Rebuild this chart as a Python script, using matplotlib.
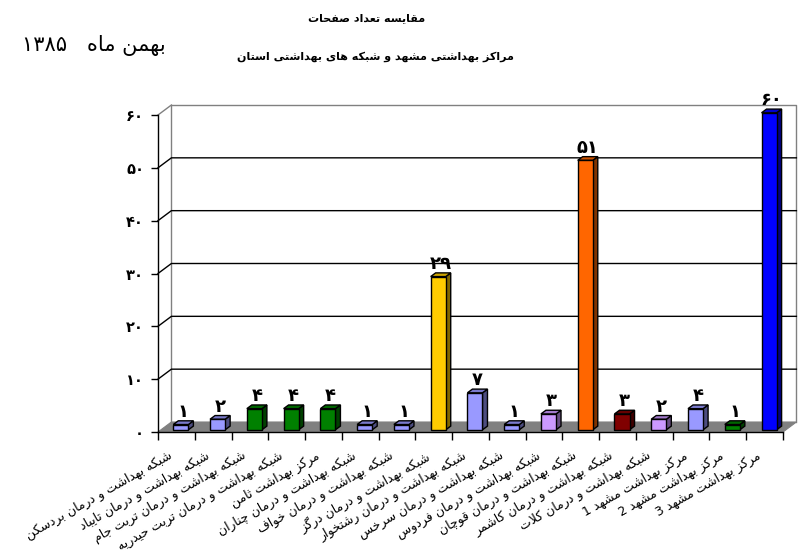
import matplotlib
matplotlib.use("Agg")
import matplotlib.pyplot as plt
from matplotlib.patches import Polygon

# ---------------- data ----------------
title_1 = "مقایسه تعداد صفحات"
title_2 = "مراکز بهداشتی مشهد و شبکه های بهداشتی استان"
date_text = "بهمن ماه   ۱۳۸۵"

categories = [
    "شبکه بهداشت و درمان بردسکن",
    "شبکه بهداشت و درمان تایباد",
    "شبکه بهداشت و درمان تربت جام",
    "شبکه بهداشت و درمان تربت حیدریه",
    "مرکز بهداشت ثامن",
    "شبکه بهداشت و درمان چناران",
    "شبکه بهداشت و درمان خواف",
    "شبکه بهداشت و درمان درگز",
    "شبکه بهداشت و درمان رشتخوار",
    "شبکه بهداشت و درمان سرخس",
    "شبکه بهداشت و درمان فردوس",
    "شبکه بهداشت و درمان قوچان",
    "شبکه بهداشت و درمان کاشمر",
    "شبکه بهداشت و درمان کلات",
    "مرکز بهداشت مشهد 1",
    "مرکز بهداشت مشهد 2",
    "مرکز بهداشت مشهد 3",
]
values = [1, 2, 4, 4, 4, 1, 1, 29, 7, 1, 3, 51, 3, 2, 4, 1, 60]
bar_colors = ["#9999FF", "#9999FF", "#008000", "#008000", "#008000", "#9999FF",
              "#9999FF", "#FFCC00", "#9999FF", "#9999FF", "#CC99FF", "#FF6600",
              "#800000", "#CC99FF", "#9999FF", "#008000", "#0000FF"]
y_ticks = [0, 10, 20, 30, 40, 50, 60]

# ---------------- simple Arabic/Persian shaping ----------------
# (isolated, final, initial, medial)
FORMS = {
    "\u0627": ("\uFE8D", "\uFE8E", None, None),
    "\u0628": ("\uFE8F", "\uFE90", "\uFE91", "\uFE92"),
    "\u067E": ("\uFB56", "\uFB57", "\uFB58", "\uFB59"),
    "\u062A": ("\uFE95", "\uFE96", "\uFE97", "\uFE98"),
    "\u062B": ("\uFE99", "\uFE9A", "\uFE9B", "\uFE9C"),
    "\u062C": ("\uFE9D", "\uFE9E", "\uFE9F", "\uFEA0"),
    "\u0686": ("\uFB7A", "\uFB7B", "\uFB7C", "\uFB7D"),
    "\u062D": ("\uFEA1", "\uFEA2", "\uFEA3", "\uFEA4"),
    "\u062E": ("\uFEA5", "\uFEA6", "\uFEA7", "\uFEA8"),
    "\u062F": ("\uFEA9", "\uFEAA", None, None),
    "\u0630": ("\uFEAB", "\uFEAC", None, None),
    "\u0631": ("\uFEAD", "\uFEAE", None, None),
    "\u0632": ("\uFEAF", "\uFEB0", None, None),
    "\u0698": ("\uFB8A", "\uFB8B", None, None),
    "\u0633": ("\uFEB1", "\uFEB2", "\uFEB3", "\uFEB4"),
    "\u0634": ("\uFEB5", "\uFEB6", "\uFEB7", "\uFEB8"),
    "\u0635": ("\uFEB9", "\uFEBA", "\uFEBB", "\uFEBC"),
    "\u0636": ("\uFEBD", "\uFEBE", "\uFEBF", "\uFEC0"),
    "\u0637": ("\uFEC1", "\uFEC2", "\uFEC3", "\uFEC4"),
    "\u0638": ("\uFEC5", "\uFEC6", "\uFEC7", "\uFEC8"),
    "\u0639": ("\uFEC9", "\uFECA", "\uFECB", "\uFECC"),
    "\u063A": ("\uFECD", "\uFECE", "\uFECF", "\uFED0"),
    "\u0641": ("\uFED1", "\uFED2", "\uFED3", "\uFED4"),
    "\u0642": ("\uFED5", "\uFED6", "\uFED7", "\uFED8"),
    "\u06A9": ("\uFB8E", "\uFB8F", "\uFB90", "\uFB91"),
    "\u06AF": ("\uFB92", "\uFB93", "\uFB94", "\uFB95"),
    "\u0644": ("\uFEDD", "\uFEDE", "\uFEDF", "\uFEE0"),
    "\u0645": ("\uFEE1", "\uFEE2", "\uFEE3", "\uFEE4"),
    "\u0646": ("\uFEE5", "\uFEE6", "\uFEE7", "\uFEE8"),
    "\u0647": ("\uFEE9", "\uFEEA", "\uFEEB", "\uFEEC"),
    "\u0648": ("\uFEED", "\uFEEE", None, None),
    "\u06CC": ("\uFBFC", "\uFBFD", "\uFBFE", "\uFBFF"),
}
DIGITS = set("0123456789\u06F0\u06F1\u06F2\u06F3\u06F4\u06F5\u06F6\u06F7\u06F8\u06F9")


def shape(text):
    out = []
    n = len(text)
    i = 0
    while i < n:
        c = text[i]
        if c not in FORMS:
            out.append(c)
            i += 1
            continue
        prev = text[i - 1] if i > 0 else ""
        joins_prev = prev in FORMS and FORMS[prev][2] is not None
        if c == "\u0644" and i + 1 < n and text[i + 1] == "\u0627":
            out.append("\uFEFC" if joins_prev else "\uFEFB")
            i += 2
            continue
        nxt = text[i + 1] if i + 1 < n else ""
        joins_next = FORMS[c][2] is not None and nxt in FORMS
        iso, fin, ini, med = FORMS[c]
        if joins_prev and joins_next:
            g = med
        elif joins_prev:
            g = fin
        elif joins_next:
            g = ini
        else:
            g = iso
        out.append(g)
        i += 1
    rev = "".join(out)[::-1]
    # restore left-to-right order of digit runs
    res, run = [], []
    for ch in rev:
        if ch in DIGITS:
            run.append(ch)
        else:
            if run:
                res.extend(run[::-1])
                run = []
            res.append(ch)
    if run:
        res.extend(run[::-1])
    return "".join(res)


def fa_num(v):
    return "".join(chr(0x06F0 + int(d)) for d in str(v))


# ---------------- figure ----------------
W, H = 808, 559
fig = plt.figure(figsize=(W / 100, H / 100), dpi=100)
fig.patch.set_facecolor("white")

px_left, px_right, px_bottom, px_top = 158, 783, 432, 115
ax = fig.add_axes([px_left / W, 1 - px_bottom / H,
                   (px_right - px_left) / W, (px_bottom - px_top) / H])
n = len(values)
ax.set_xlim(0, n)
ax.set_ylim(0, 60)
ax.set_facecolor("none")
for s in ["top", "right"]:
    ax.spines[s].set_visible(False)
ax.spines["left"].set_linewidth(1.0)
ax.spines["bottom"].set_linewidth(1.0)
ax.spines["left"].set_zorder(6)
ax.spines["bottom"].set_zorder(6)

ux = (px_right - px_left) / n           # px per category
uy = (px_bottom - px_top) / 60.0        # px per value unit
DX = 13.4 / ux                          # wall depth in data units
DY = 10.0 / uy

grey = "#808080"
# floor
ax.add_patch(Polygon([(0, 0), (n, 0), (n + DX, DY), (DX, DY)], closed=True,
                     facecolor=grey, edgecolor=grey, lw=0.8, zorder=1, clip_on=False))
# back wall border
ax.plot([DX, DX, n + DX, n + DX], [DY, 60 + DY, 60 + DY, DY], color=grey, lw=1.0,
        zorder=1, clip_on=False)
ax.plot([0, DX], [60, 60 + DY], color=grey, lw=1.0, zorder=1, clip_on=False)
# gridlines (back wall + side wall diagonals)
for t in y_ticks[1:-1]:
    ax.plot([0, DX, n + DX], [t, t + DY, t + DY], color="black", lw=1.0,
            zorder=2, clip_on=False)

# bars
bw = 0.41
off = 0.416
bdx = 5.0 / ux
bdy = 3.7 / uy
base = 2.2 / uy


def darker(c, f):
    r, g, b = matplotlib.colors.to_rgb(c)
    return (r * f, g * f, b * f)


xs = [i + off + bw / 2 for i in range(n)]
ax.bar(xs, values, width=bw, bottom=base, color=bar_colors, edgecolor="black",
       linewidth=1.0, zorder=4, clip_on=False)
for i, (v, c) in enumerate(zip(values, bar_colors)):
    x0 = i + off
    x1 = x0 + bw
    top = base + v
    ax.add_patch(Polygon([(x1, base), (x1 + bdx, base + bdy), (x1 + bdx, top + bdy), (x1, top)],
                         closed=True, facecolor=darker(c, 0.5), edgecolor="black",
                         lw=1.0, zorder=3, clip_on=False))
    ax.add_patch(Polygon([(x0, top), (x1, top), (x1 + bdx, top + bdy), (x0 + bdx, top + bdy)],
                         closed=True, facecolor=darker(c, 0.8), edgecolor="black",
                         lw=1.0, zorder=3, clip_on=False))
    ax.text(x0 + (bw + bdx) / 2, top + bdy, fa_num(v), ha="center", va="bottom",
            fontsize=13, fontweight="bold", family="DejaVu Sans", zorder=7,
            clip_on=False)

# axes ticks
ax.set_yticks(y_ticks)
ax.set_yticklabels([fa_num(t) for t in y_ticks], fontsize=10.5, fontweight="bold")
ax.tick_params(axis="y", length=5, width=1.0, pad=5, direction="out")
ax.set_xticks(range(n + 1))
ax.set_xticklabels([])
ax.tick_params(axis="x", length=6, width=1.0, direction="out")

# category labels
for i, lab in enumerate(categories):
    xpx = px_left + ux * (i + 0.5) - 8
    fig.text(xpx / W, 1 - 449 / H, shape(lab), rotation=29.5, rotation_mode="anchor",
             ha="right", va="top", fontsize=9, family="DejaVu Sans")

# titles
fig.text(367 / W, 1 - 18 / H, shape(title_1), ha="center", va="center",
         fontsize=8, fontweight="bold")
fig.text(375 / W, 1 - 57 / H, shape(title_2), ha="center", va="center",
         fontsize=8, fontweight="bold")
fig.text(94 / W, 1 - 45 / H, shape(date_text), ha="center", va="center", fontsize=15)

fig.savefig("out.png", dpi=100, facecolor="white")
